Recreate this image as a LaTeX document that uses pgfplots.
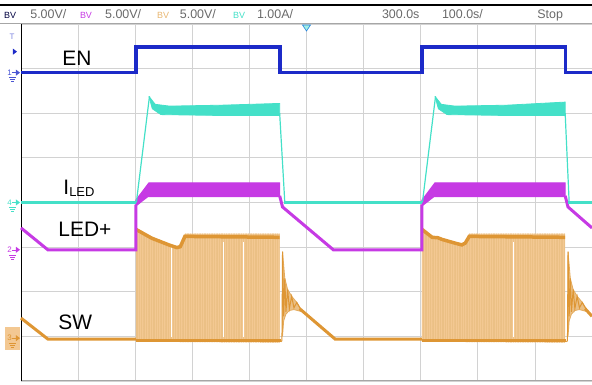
\documentclass[border=0pt]{standalone}
\usepackage{fontspec}
\setmainfont{Liberation Sans}
\usepackage{pgfplots}
\pgfplotsset{compat=1.18}
\usetikzlibrary{patterns.meta}
\definecolor{enc}{RGB}{28,42,200}
\definecolor{ilc}{RGB}{68,224,200}
\definecolor{ledc}{RGB}{198,58,228}
\definecolor{swc}{RGB}{222,150,52}
\definecolor{swf}{RGB}{243,200,146}
\definecolor{gridc}{RGB}{210,210,210}
\definecolor{hdr}{RGB}{105,105,105}
\newcommand{\gm}[3]{%
 \node[anchor=east, inner sep=0pt, text=#2, font=\fontsize{8}{8}\selectfont] at ([xshift=-9bp]axis cs:0,#1) {#3};
 \fill[#2] ([xshift=-1bp]axis cs:0,#1) -- ++(-4bp,3bp) -- ++(0,-6bp) -- cycle;
 \draw[#2, line width=0.6bp] ([xshift=-9bp]axis cs:0,#1) -- ([xshift=-4bp]axis cs:0,#1);
 \draw[#2, line width=0.6bp] ([xshift=-12bp,yshift=-5bp]axis cs:0,#1) -- ++(7bp,0);
 \draw[#2, line width=0.6bp] ([xshift=-11bp,yshift=-7bp]axis cs:0,#1) -- ++(5bp,0);
 \draw[#2, line width=0.6bp] ([xshift=-10bp,yshift=-9bp]axis cs:0,#1) -- ++(3bp,0);
}
\begin{document}
\begin{tikzpicture}
\begin{axis}[
 scale only axis, width=571bp, height=357bp,
 xmin=0, xmax=10, ymin=0, ymax=8,
 xtick={0,...,10}, ytick={0,...,8},
 xticklabels={}, yticklabels={},
 major tick length=0pt,
 grid=major, major grid style={gridc, line width=0.8bp},
 axis line style={draw=none},
 clip=false,
]
\coordinate (ll) at (axis cs:0,0);
\coordinate (ur) at (axis cs:10,8);
% frame and header
\draw[gray!70, line width=1bp] ([xshift=-21bp]axis cs:0,8) -- (axis cs:10,8);
\draw[black, line width=1.6bp] ([xshift=-21bp]axis cs:0,8.43) -- (axis cs:10,8.43);
\draw[gray!70, line width=1bp] (axis cs:0,0) -- (axis cs:10,0);
\draw[black, line width=1bp] (axis cs:0,0) -- (axis cs:0,8);
\begin{scope}[every node/.style={anchor=base west, inner sep=0pt}]
\node[text=black!75!blue, font=\fontsize{9}{9}\selectfont] at (axis cs:-0.30,8.13) {BV};
\node[text=hdr, font=\fontsize{12.5}{12.5}\selectfont] at (axis cs:0.16,8.13) {5.00V/};
\node[text=ledc, font=\fontsize{9}{9}\selectfont] at (axis cs:1.03,8.13) {BV};
\node[text=hdr, font=\fontsize{12.5}{12.5}\selectfont] at (axis cs:1.47,8.13) {5.00V/};
\node[text=swc!70, font=\fontsize{9}{9}\selectfont] at (axis cs:2.38,8.13) {BV};
\node[text=hdr, font=\fontsize{12.5}{12.5}\selectfont] at (axis cs:2.78,8.13) {5.00V/};
\node[text=ilc, font=\fontsize{9}{9}\selectfont] at (axis cs:3.71,8.13) {BV};
\node[text=hdr, font=\fontsize{12.5}{12.5}\selectfont] at (axis cs:4.13,8.13) {1.00A/};
\node[text=hdr, font=\fontsize{12.5}{12.5}\selectfont] at (axis cs:6.32,8.13) {300.0s};
\node[text=hdr, font=\fontsize{12.5}{12.5}\selectfont] at (axis cs:7.37,8.13) {100.0s/};
\node[text=hdr, font=\fontsize{12.5}{12.5}\selectfont] at (axis cs:9.04,8.13) {Stop};
\end{scope}
% trigger marker
\draw[ilc!60!blue, fill=ilc!50, line width=0.6bp] ([xshift=-4bp,yshift=-1bp]axis cs:5,8) -- ++(8bp,0) -- ++(-4bp,-6bp) -- cycle;
% ground markers
\node[text=enc!60, font=\fontsize{8}{8}\selectfont, inner sep=0pt] at ([xshift=-9bp]axis cs:0,7.72) {T};
\fill[enc] ([xshift=-4bp]axis cs:0,7.38) -- ++(-4bp,3bp) -- ++(0,-6bp) -- cycle;
\gm{6.91}{enc!80}{1}
\gm{4.0}{ilc}{4}
\gm{2.94}{ledc}{2}
\fill[swf] ([xshift=-16bp,yshift=-12bp]axis cs:0,0.96) rectangle ([xshift=-1bp,yshift=11bp]axis cs:0,0.96);
\gm{0.96}{swc}{3}
% ---------- SW ----------
\addplot[draw=none, fill=swf, postaction={pattern={Lines[angle=90,distance=1.7bp,line width=0.45bp]}, pattern color=swc!60}] coordinates {(2.01,0.88)(2.01,3.43)(2.29,3.23)(2.61,3.07)(2.73,3.02)(2.79,3.04)(2.87,3.3)(4.53,3.3)(4.53,0.86)};
\addplot[draw=none, fill=swf, postaction={pattern={Lines[angle=90,distance=1.7bp,line width=0.45bp]}, pattern color=swc!60}] coordinates {(7.02,0.88)(7.02,3.43)(7.2,3.25)(7.3,3.24)(7.38,3.2)(7.6,3.12)(7.72,3.08)(7.78,3.12)(7.85,3.3)(9.53,3.3)(9.53,0.86)};
\addplot[white, line width=1.1bp, unbounded coords=jump] coordinates {(2.64,0.98)(2.64,3.0)(2.64,nan)(3.54,0.98)(3.54,3.12)(3.54,nan)(3.9,0.98)(3.9,3.12)(3.9,nan)(8.62,0.98)(8.62,3.12)};
\addplot[swc, line width=3.5bp] coordinates {(2.01,3.4)(2.29,3.2)(2.61,3.04)(2.73,2.99)(2.79,3.01)(2.87,3.24)(4.53,3.22)};
\addplot[swc, line width=3.5bp] coordinates {(7.02,3.4)(7.2,3.22)(7.3,3.21)(7.38,3.17)(7.6,3.09)(7.72,3.05)(7.78,3.09)(7.85,3.24)(9.53,3.22)};
\addplot[swc, line width=3bp] coordinates {(2.01,0.9)(4.55,0.9)};
\addplot[swc, line width=3bp] coordinates {(7.02,0.9)(9.55,0.9)};
\addplot[swc, line width=3bp] coordinates {(0,1.41)(0.47,0.94)(2.01,0.94)};
\addplot[swc!80, fill=swc!60, line width=0.8bp] coordinates {(4.58,1.0)(4.58,2.9)(4.62,2.3)(4.67,2.05)(4.74,1.9)(4.83,1.76)(4.9,1.62)(4.9,1.56)(4.78,1.6)(4.7,1.58)(4.64,1.5)(4.6,1.35)(4.58,1.0)};
\addplot[swc, line width=1bp] coordinates {(4.55,0.88)(4.57,0.9)(4.58,2.9)(4.6,1.45)(4.62,2.3)(4.64,1.55)(4.67,2.05)(4.7,1.62)(4.74,1.9)(4.78,1.64)(4.83,1.76)(4.9,1.6)};
\addplot[swc, line width=3bp] coordinates {(4.88,1.62)(5.5,0.94)(7.02,0.94)};
\addplot[swc!80, fill=swc!60, line width=0.8bp] coordinates {(9.58,1.0)(9.58,2.9)(9.62,2.3)(9.67,2.05)(9.74,1.9)(9.83,1.76)(9.9,1.62)(9.9,1.56)(9.78,1.6)(9.7,1.58)(9.64,1.5)(9.6,1.35)(9.58,1.0)};
\addplot[swc, line width=1bp] coordinates {(9.55,0.88)(9.57,0.9)(9.58,2.9)(9.6,1.45)(9.62,2.3)(9.64,1.55)(9.67,2.05)(9.7,1.62)(9.74,1.9)(9.78,1.64)(9.83,1.76)(9.9,1.6)};
\addplot[swc, line width=3bp] coordinates {(9.88,1.62)(10,1.45)};
% ---------- LED+ ----------
\addplot[ledc, line width=3bp] coordinates {(0,3.43)(0.47,2.94)(2.01,2.94)(2.01,3.95)};
\addplot[draw=ledc, fill=ledc, line width=1bp] coordinates {(2.01,3.92)(2.01,4.05)(2.24,4.44)(4.53,4.44)(4.53,4.13)(2.22,4.13)(2.01,3.92)};
\addplot[ledc, line width=3bp] coordinates {(4.53,4.15)(4.58,3.9)(5.47,2.94)(7.02,2.94)(7.02,3.95)};
\addplot[draw=ledc, fill=ledc, line width=1bp] coordinates {(7.02,3.92)(7.02,4.05)(7.25,4.44)(9.53,4.44)(9.53,4.13)(7.23,4.13)(7.02,3.92)};
\addplot[ledc, line width=3bp] coordinates {(9.53,4.15)(9.58,3.9)(10,3.43)};
% ---------- ILED ----------
\addplot[ilc, line width=3.5bp] coordinates {(0,4.0)(2.02,4.0)};
\addplot[ilc, line width=1.2bp] coordinates {(2.02,4.0)(2.25,6.38)};
\addplot[draw=ilc, fill=ilc, line width=0.8bp] coordinates {(2.24,6.38)(2.35,6.2)(2.6,6.16)(3.5,6.18)(4.53,6.22)(4.53,5.95)(3.5,5.95)(2.45,5.97)(2.3,6.1)(2.24,6.38)};
\addplot[ilc, line width=1.2bp] coordinates {(4.53,6.0)(4.62,4.0)};
\addplot[ilc, line width=3.5bp] coordinates {(4.6,4.0)(7.03,4.0)};
\addplot[ilc, line width=1.2bp] coordinates {(7.03,4.0)(7.26,6.38)};
\addplot[draw=ilc, fill=ilc, line width=0.8bp] coordinates {(7.25,6.38)(7.36,6.2)(7.6,6.16)(8.5,6.18)(9.53,6.25)(9.53,5.95)(8.5,5.95)(7.46,5.97)(7.31,6.1)(7.25,6.38)};
\addplot[ilc, line width=1.2bp] coordinates {(9.53,6.0)(9.6,4.0)};
\addplot[ilc, line width=3.5bp] coordinates {(9.58,4.0)(10,4.0)};
% ---------- EN ----------
\addplot[enc, line width=3.5bp] coordinates {(0,6.91)(2.01,6.91)(2.01,7.49)(4.54,7.49)(4.54,6.91)(7.02,6.91)(7.02,7.49)(9.54,7.49)(9.54,6.91)(10,6.91)};
% labels
\begin{scope}[every node/.style={inner sep=0pt, font=\fontsize{21}{21}\selectfont}]
\node at (axis cs:0.98,7.24) {EN};
\node[anchor=base west] at (axis cs:0.74,4.19) {I\raisebox{-2bp}{\fontsize{13}{13}\selectfont LED}};
\node at (axis cs:1.12,3.39) {LED+};
\node at (axis cs:0.95,1.32) {SW};
\end{scope}
\end{axis}
\pgfresetboundingbox
\path ([shift={(-21bp,-4bp)}]ll) rectangle ([shift={(0bp,24bp)}]ur);
\end{tikzpicture}
\end{document}
